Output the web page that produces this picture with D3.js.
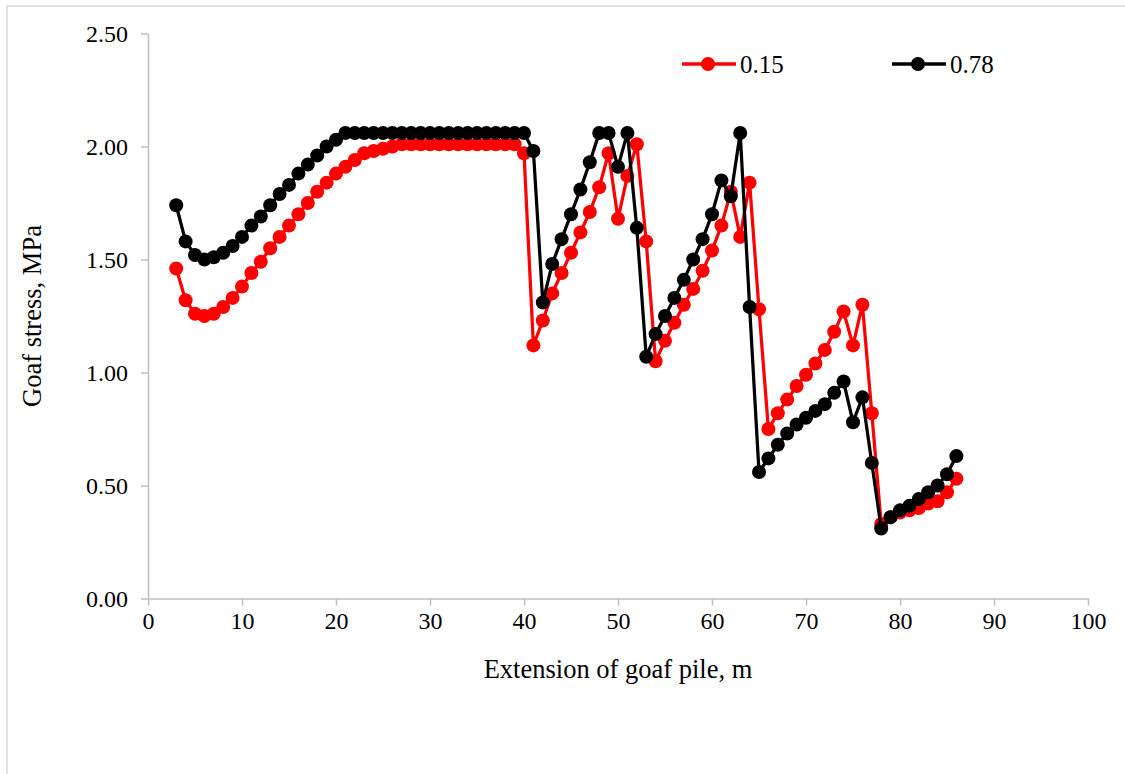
<!DOCTYPE html>
<html>
<head>
<meta charset="utf-8">
<script src="https://cdn.jsdelivr.net/npm/d3@7"></script>
<style>
  html, body { margin: 0; padding: 0; background: #fff; }
  svg { display: block; font-family: "Liberation Serif", "Times New Roman", serif; }
</style>
</head>
<body>
<svg id="chart" width="1125" height="774"></svg>
<script>
// Pile extension positions (m)
const extension = d3.range(3, 87);

// Goaf stress (MPa) for coefficient 0.15
const stress015 = [
  1.46, 1.32, 1.26, 1.25, 1.26, 1.29, 1.33, 1.38, 1.44, 1.49,
  1.55, 1.60, 1.65, 1.70, 1.75, 1.80, 1.84, 1.88, 1.91, 1.94,
  1.97, 1.98, 1.99, 2.00, 2.01, 2.01, 2.01, 2.01, 2.01, 2.01,
  2.01, 2.01, 2.01, 2.01, 2.01, 2.01, 2.01, 1.97, 1.12, 1.23,
  1.35, 1.44, 1.53, 1.62, 1.71, 1.82, 1.97, 1.68, 1.87, 2.01,
  1.58, 1.05, 1.14, 1.22, 1.30, 1.37, 1.45, 1.54, 1.65, 1.80,
  1.60, 1.84, 1.28, 0.75, 0.82, 0.88, 0.94, 0.99, 1.04, 1.10,
  1.18, 1.27, 1.12, 1.30, 0.82, 0.33, 0.36, 0.38, 0.39, 0.40,
  0.42, 0.43, 0.47, 0.53
];

// Goaf stress (MPa) for coefficient 0.78
const stress078 = [
  1.74, 1.58, 1.52, 1.50, 1.51, 1.53, 1.56, 1.60, 1.65, 1.69,
  1.74, 1.79, 1.83, 1.88, 1.92, 1.96, 2.00, 2.03, 2.06, 2.06,
  2.06, 2.06, 2.06, 2.06, 2.06, 2.06, 2.06, 2.06, 2.06, 2.06,
  2.06, 2.06, 2.06, 2.06, 2.06, 2.06, 2.06, 2.06, 1.98, 1.31,
  1.48, 1.59, 1.70, 1.81, 1.93, 2.06, 2.06, 1.91, 2.06, 1.64,
  1.07, 1.17, 1.25, 1.33, 1.41, 1.50, 1.59, 1.70, 1.85, 1.78,
  2.06, 1.29, 0.56, 0.62, 0.68, 0.73, 0.77, 0.80, 0.83, 0.86,
  0.91, 0.96, 0.78, 0.89, 0.60, 0.31, 0.36, 0.39, 0.41, 0.44,
  0.47, 0.50, 0.55, 0.63
];

const seriesNames = ["0.15", "0.78"];
const seriesColors = ["#ff0000", "#000000"];
const xTicks = [0, 10, 20, 30, 40, 50, 60, 70, 80, 90, 100];
const yTicks = [0, 0.5, 1.0, 1.5, 2.0, 2.5];

const series = [
  { name: seriesNames[0], color: seriesColors[0], values: stress015 },
  { name: seriesNames[1], color: seriesColors[1], values: stress078 }
];

const svg = d3.select("#chart");
const axisColor = "#bfbfbf";
const fontSize = 24;
const titleSize = 26.5;

// outer chart frame
svg.append("rect")
  .attr("x", 7).attr("y", 6)
  .attr("width", 1140).attr("height", 790)
  .attr("fill", "#fff")
  .attr("stroke", "#d9d9d9")
  .attr("stroke-width", 1.5);

const x = d3.scaleLinear().domain([0, 100]).range([148, 1088]);
const y = d3.scaleLinear().domain([0, 2.5]).range([598.5, 33.5]);

// x axis
const gx = svg.append("g")
  .attr("transform", `translate(0,${y(0)})`)
  .call(d3.axisBottom(x).tickValues(xTicks).tickFormat(d3.format("d"))
    .tickSize(7).tickSizeOuter(0).tickPadding(6));
gx.select(".domain").attr("stroke", axisColor).attr("stroke-width", 1.5);
gx.selectAll(".tick line").attr("stroke", axisColor).attr("stroke-width", 1.5);
gx.selectAll(".tick text")
  .attr("fill", "#000")
  .style("font-family", "Liberation Serif")
  .style("font-size", fontSize + "px");

// y axis
const gy = svg.append("g")
  .attr("transform", `translate(${x(0)},0)`)
  .call(d3.axisLeft(y).tickValues(yTicks).tickFormat(d3.format(".2f"))
    .tickSize(7).tickSizeOuter(0).tickPadding(13));
gy.select(".domain").attr("stroke", axisColor).attr("stroke-width", 1.5);
gy.selectAll(".tick line").attr("stroke", axisColor).attr("stroke-width", 1.5);
gy.selectAll(".tick text")
  .attr("fill", "#000")
  .style("font-family", "Liberation Serif")
  .style("font-size", fontSize + "px");

// axis titles
svg.append("text")
  .attr("x", (x(0) + x(100)) / 2)
  .attr("y", 678)
  .attr("text-anchor", "middle")
  .style("font-size", titleSize + "px")
  .text("Extension of goaf pile, m");

svg.append("text")
  .attr("transform", `translate(41,${(y(0) + y(2.5)) / 2}) rotate(-90)`)
  .attr("text-anchor", "middle")
  .style("font-size", titleSize + "px")
  .text("Goaf stress, MPa");

// series lines and markers
const line = d3.line()
  .x((d, i) => x(extension[i]))
  .y(d => y(d));

series.forEach(s => {
  const g = svg.append("g");
  g.append("path")
    .datum(s.values)
    .attr("d", line)
    .attr("fill", "none")
    .attr("stroke", s.color)
    .attr("stroke-width", 3.25)
    .attr("stroke-linejoin", "round");
  g.selectAll("circle")
    .data(s.values)
    .join("circle")
    .attr("cx", (d, i) => x(extension[i]))
    .attr("cy", d => y(d))
    .attr("r", 7)
    .attr("fill", s.color);
});

// legend
const legendX = [682, 892];
const legend = svg.append("g");
series.forEach((s, i) => {
  const lx = legendX[i];
  legend.append("line")
    .attr("x1", lx).attr("x2", lx + 54)
    .attr("y1", 64).attr("y2", 64)
    .attr("stroke", s.color).attr("stroke-width", 3.5);
  legend.append("circle")
    .attr("cx", lx + 26).attr("cy", 64).attr("r", 7)
    .attr("fill", s.color);
  legend.append("text")
    .attr("x", lx + 58).attr("y", 72.5)
    .style("font-size", "25px")
    .text(s.name);
});
</script>
</body>
</html>
